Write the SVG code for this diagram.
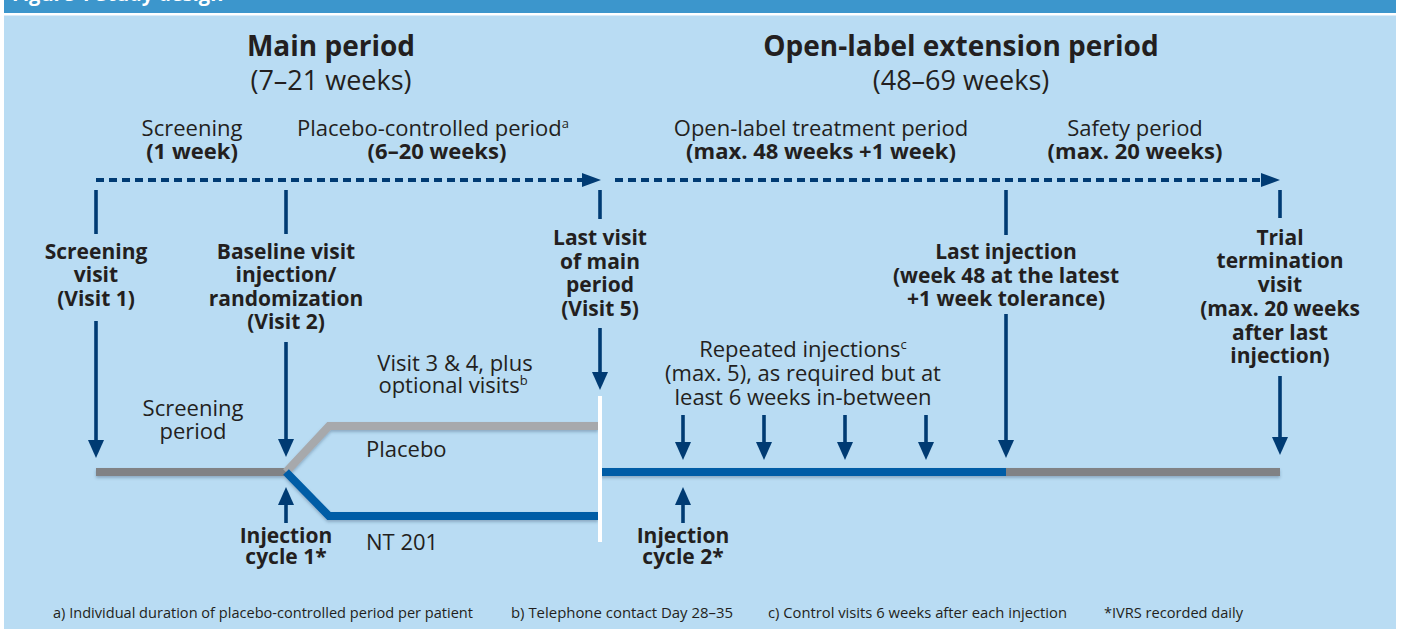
<svg xmlns="http://www.w3.org/2000/svg" width="1402" height="629" viewBox="0 0 1402 629">
<defs>
<style>
text{font-family:"Open Sans","Noto Sans",sans-serif;fill:#231f20}
.h1{font-size:28px;font-weight:bold;text-anchor:middle}
.h2{font-size:27px;text-anchor:middle}
.r{font-size:22px;text-anchor:middle}
.rl{font-size:22px}
.b{font-size:21px;font-weight:bold;text-anchor:middle}
.bs{font-weight:bold}
.fn{font-size:14px}
.sup{font-size:13px}
.ar{stroke:#003b73;stroke-width:3.6;fill:none}
.dash{stroke:#003b73;stroke-width:4;stroke-dasharray:8 5;fill:none}
.track{fill:none;stroke-width:8;stroke-linejoin:miter}
</style>
<marker id="ah" markerUnits="userSpaceOnUse" markerWidth="18" markerHeight="16" refX="8" refY="8" orient="auto">
<path d="M0,0 L18,8 L0,16 z" fill="#003b73"/>
</marker>
<marker id="dh" markerUnits="userSpaceOnUse" markerWidth="19" markerHeight="14" refX="0" refY="7" orient="auto">
<path d="M0,0 L19,7 L0,14 z" fill="#003b73"/>
</marker>
<filter id="sh" x="-5%" y="-50%" width="110%" height="200%">
<feDropShadow dx="0" dy="2" stdDeviation="1.6" flood-color="#33506b" flood-opacity="0.35"/>
</filter>
</defs>

<rect x="0" y="0" width="1402" height="629" fill="#ffffff"/>
<rect x="4" y="0" width="1392" height="13" fill="#3c96cc"/>
<rect x="4" y="15.5" width="1392" height="614" fill="#b9dcf3"/>
<text x="12" y="1" style="font-size:20px;font-weight:bold;fill:#ffffff">Figure 1  Study design</text>

<g id="tracks" filter="url(#sh)">
<path class="track" stroke="#808285" d="M96,472 H289"/>
<path class="track" stroke="#a7a9ac" d="M286,472 L329,426 H598"/>
<path class="track" stroke="#005da6" d="M286,472 L329,516 H598"/>
<path class="track" stroke="#005da6" d="M601,472 H1007"/>
<path class="track" stroke="#808285" d="M1006,472 H1280"/>
</g>
<rect x="598" y="396" width="4" height="146" fill="#ffffff"/>

<g id="connectors">
<line class="dash" x1="96" y1="180" x2="582" y2="180" marker-end="url(#dh)"/>
<line class="dash" x1="615" y1="180" x2="1261" y2="180" marker-end="url(#dh)"/>
<line class="ar" x1="96" y1="190" x2="96" y2="234"/>
<line class="ar" x1="96" y1="321" x2="96" y2="448" marker-end="url(#ah)"/>
<line class="ar" x1="286" y1="190" x2="286" y2="234"/>
<line class="ar" x1="286" y1="342" x2="286" y2="447" marker-end="url(#ah)"/>
<line class="ar" x1="600" y1="190" x2="600" y2="219"/>
<line class="ar" x1="600" y1="328" x2="600" y2="380" marker-end="url(#ah)"/>
<line class="ar" x1="1006" y1="190" x2="1006" y2="235"/>
<line class="ar" x1="1006" y1="314" x2="1006" y2="448" marker-end="url(#ah)"/>
<line class="ar" x1="1280" y1="190" x2="1280" y2="218"/>
<line class="ar" x1="1280" y1="376" x2="1280" y2="445" marker-end="url(#ah)"/>
<line class="ar" x1="683" y1="415" x2="683" y2="450" marker-end="url(#ah)"/>
<line class="ar" x1="764" y1="415" x2="764" y2="450" marker-end="url(#ah)"/>
<line class="ar" x1="845" y1="415" x2="845" y2="450" marker-end="url(#ah)"/>
<line class="ar" x1="926" y1="415" x2="926" y2="450" marker-end="url(#ah)"/>
<line class="ar" x1="286" y1="523" x2="286" y2="497" marker-end="url(#ah)"/>
<line class="ar" x1="683" y1="523" x2="683" y2="497" marker-end="url(#ah)"/>
</g>

<g id="main-period">
<text class="h1" x="331" y="56">Main period</text>
<text class="h2" x="331" y="90">(7–21 weeks)</text>
</g>
<g id="extension-period">
<text class="h1" x="961" y="56">Open-label extension period</text>
<text class="h2" x="961" y="90">(48–69 weeks)</text>
</g>
<g id="screening-phase">
<text class="r" x="192" y="136">Screening<tspan class="bs" x="192" y="159">(1 week)</tspan></text>
</g>
<g id="placebo-phase">
<text class="r" x="433" y="136">Placebo-controlled period<tspan class="sup" dy="-8">a</tspan><tspan class="bs" x="437" y="159">(6–20 weeks)</tspan></text>
</g>
<g id="treatment-phase">
<text class="r" x="821" y="136">Open-label treatment period<tspan class="bs" x="821" y="159">(max. 48 weeks +1 week)</tspan></text>
</g>
<g id="safety-phase">
<text class="r" x="1135" y="136">Safety period<tspan class="bs" x="1135" y="159">(max. 20 weeks)</tspan></text>
</g>

<g id="screening-visit">
<text class="b" x="96" y="259">Screening<tspan x="96" y="282">visit</tspan><tspan x="96" y="306">(Visit 1)</tspan></text>
</g>
<g id="baseline-visit">
<text class="b" x="286" y="259">Baseline visit<tspan x="286" y="282">injection/</tspan><tspan x="286" y="306">randomization</tspan><tspan x="286" y="329">(Visit 2)</tspan></text>
</g>
<g id="last-visit">
<text class="b" x="600" y="245">Last visit<tspan x="600" y="269">of main</tspan><tspan x="600" y="292">period</tspan><tspan x="600" y="316">(Visit 5)</tspan></text>
</g>
<g id="last-injection">
<text class="b" x="1006" y="259">Last injection<tspan x="1006" y="283">(week 48 at the latest</tspan><tspan x="1006" y="306">+1 week tolerance)</tspan></text>
</g>
<g id="trial-termination">
<text class="b" x="1280" y="245">Trial<tspan x="1280" y="268">termination</tspan><tspan x="1280" y="292">visit</tspan><tspan x="1280" y="316">(max. 20 weeks</tspan><tspan x="1280" y="340">after last</tspan><tspan x="1280" y="363">injection)</tspan></text>
</g>
<g id="screening-period">
<text class="r" x="193" y="416">Screening<tspan x="193" y="439">period</tspan></text>
</g>
<g id="visits-3-4">
<text class="r" x="455" y="371">Visit 3 &amp; 4, plus<tspan x="453" y="393">optional visits</tspan><tspan class="sup" dy="-8">b</tspan></text>
</g>
<g id="repeated-injections">
<text class="r" x="803" y="357">Repeated injections<tspan class="sup" dy="-8">c</tspan><tspan x="803" y="381">(max. 5), as required but at</tspan><tspan x="803" y="405">least 6 weeks in-between</tspan></text>
</g>
<g id="placebo-arm">
<text class="rl" x="366" y="457">Placebo</text>
</g>
<g id="nt201-arm">
<text class="rl" x="366" y="550">NT 201</text>
</g>
<g id="injection-cycle-1">
<text class="b" x="286" y="543">Injection<tspan x="286" y="564">cycle 1*</tspan></text>
</g>
<g id="injection-cycle-2">
<text class="b" x="683" y="543">Injection<tspan x="683" y="564">cycle 2*</tspan></text>
</g>

<g id="footnotes">
<text class="fn" x="53" y="618" textLength="420" lengthAdjust="spacingAndGlyphs">a) Individual duration of placebo-controlled period per patient</text>
<text class="fn" x="511" y="618" textLength="222" lengthAdjust="spacingAndGlyphs">b) Telephone contact Day 28–35</text>
<text class="fn" x="768" y="618" textLength="299" lengthAdjust="spacingAndGlyphs">c) Control visits 6 weeks after each injection</text>
<text class="fn" x="1104" y="618" textLength="139" lengthAdjust="spacingAndGlyphs">*IVRS recorded daily</text>
</g>
</svg>
